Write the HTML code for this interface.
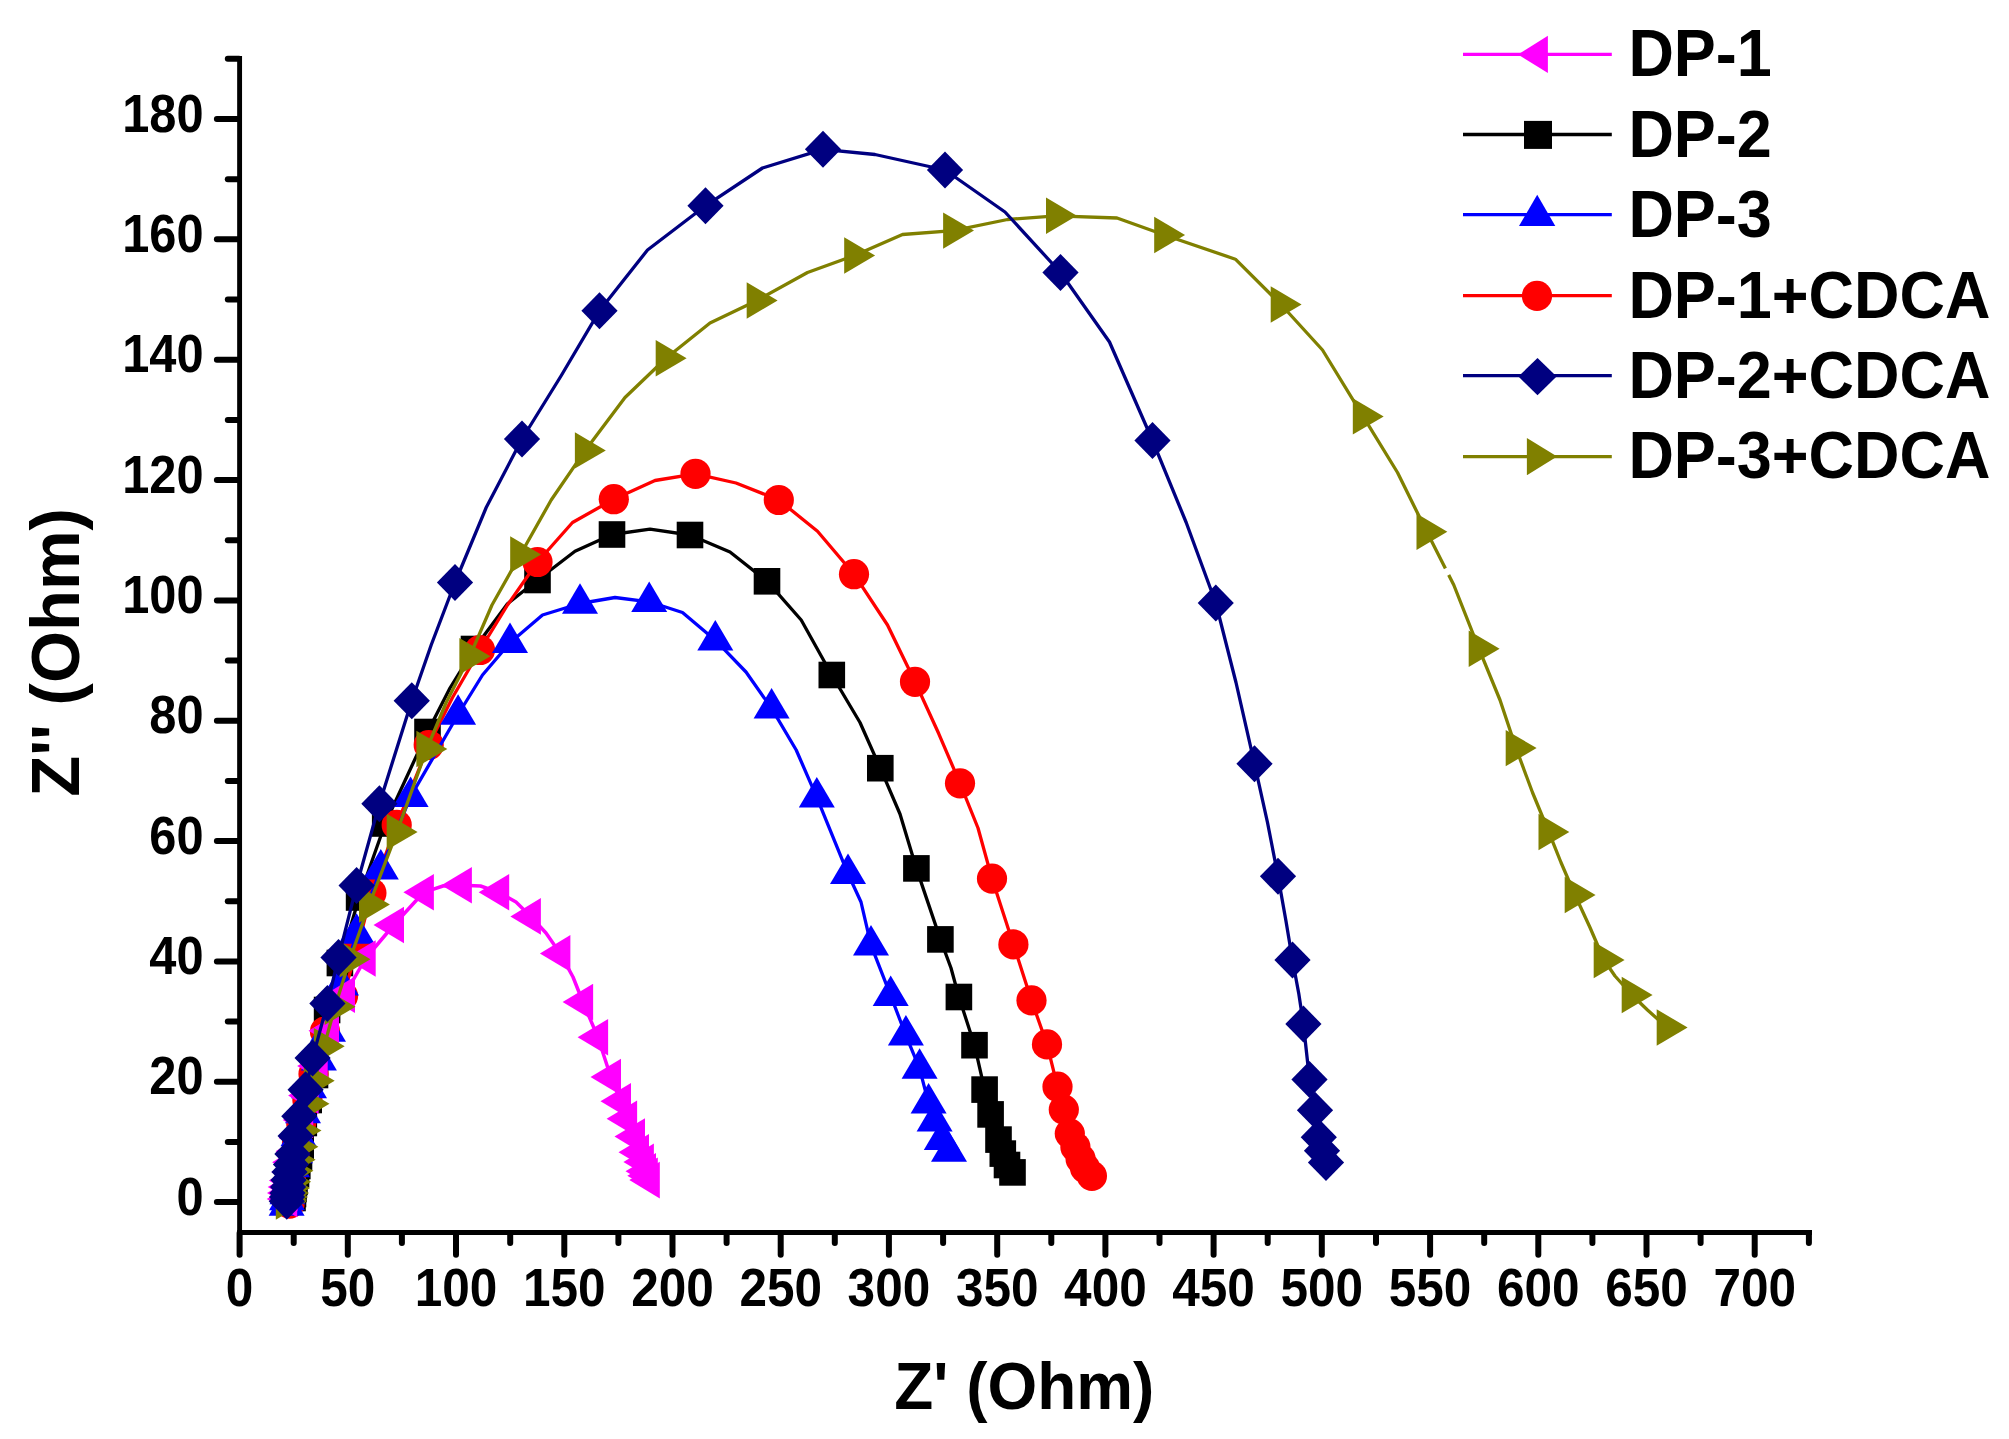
<!DOCTYPE html>
<html lang="en">
<head>
<meta charset="utf-8">
<title>Nyquist plot</title>
<style>
html,body{margin:0;padding:0;background:#fff;}
body{width:2009px;height:1439px;overflow:hidden;}
svg{display:block;}
</style>
</head>
<body>
<svg width="2009" height="1439" viewBox="0 0 2009 1439">
<rect x="0" y="0" width="2009" height="1439" fill="#ffffff"/>
<g fill="#000000" stroke="none">
<polyline fill="none" stroke="#000000" stroke-width="3.3" stroke-linejoin="round" points="292.5,1198 293,1194 293.5,1189 294.5,1182 296,1174 297.3,1166 299,1157 300.7,1147 303.8,1123 308.7,1100 315,1075 327.1,1010 339.9,963 359.1,897.5 385.2,823.5 427.5,732 450,688 474,649 507.5,603.8 537.5,580 575,551.2 612,534.5 650,529.2 690,535 730,552 767,581.2 801.2,620 831.8,675 860,722.5 880.3,768.2 900,814 916.4,868.4 940.4,939.4 951,968 958.9,997 967,1022 974.5,1045.2 984.6,1089.6 990.6,1114.4 998.5,1139.6 1002.8,1153.6 1007,1165 1012.5,1172.4"/>
<rect x="279.2" y="1184.7" width="26.6" height="26.6"/>
<rect x="279.7" y="1180.7" width="26.6" height="26.6"/>
<rect x="280.2" y="1175.7" width="26.6" height="26.6"/>
<rect x="281.2" y="1168.7" width="26.6" height="26.6"/>
<rect x="282.7" y="1160.7" width="26.6" height="26.6"/>
<rect x="284" y="1152.7" width="26.6" height="26.6"/>
<rect x="285.7" y="1143.7" width="26.6" height="26.6"/>
<rect x="287.4" y="1133.7" width="26.6" height="26.6"/>
<rect x="290.5" y="1109.7" width="26.6" height="26.6"/>
<rect x="295.4" y="1086.7" width="26.6" height="26.6"/>
<rect x="301.7" y="1061.7" width="26.6" height="26.6"/>
<rect x="313.8" y="996.7" width="26.6" height="26.6"/>
<rect x="326.6" y="949.7" width="26.6" height="26.6"/>
<rect x="345.8" y="884.2" width="26.6" height="26.6"/>
<rect x="371.9" y="810.2" width="26.6" height="26.6"/>
<rect x="414.2" y="718.7" width="26.6" height="26.6"/>
<rect x="460.7" y="635.7" width="26.6" height="26.6"/>
<rect x="524.2" y="566.7" width="26.6" height="26.6"/>
<rect x="598.7" y="521.2" width="26.6" height="26.6"/>
<rect x="676.7" y="521.7" width="26.6" height="26.6"/>
<rect x="753.7" y="568" width="26.6" height="26.6"/>
<rect x="818.5" y="661.7" width="26.6" height="26.6"/>
<rect x="867" y="754.9" width="26.6" height="26.6"/>
<rect x="903.1" y="855.1" width="26.6" height="26.6"/>
<rect x="927.1" y="926.1" width="26.6" height="26.6"/>
<rect x="945.6" y="983.7" width="26.6" height="26.6"/>
<rect x="961.2" y="1031.9" width="26.6" height="26.6"/>
<rect x="971.3" y="1076.3" width="26.6" height="26.6"/>
<rect x="977.3" y="1101.1" width="26.6" height="26.6"/>
<rect x="985.2" y="1126.3" width="26.6" height="26.6"/>
<rect x="989.5" y="1140.3" width="26.6" height="26.6"/>
<rect x="993.7" y="1151.7" width="26.6" height="26.6"/>
<rect x="999.2" y="1159.1" width="26.6" height="26.6"/>
</g>
<g fill="#ff0000" stroke="none">
<polyline fill="none" stroke="#ff0000" stroke-width="3.3" stroke-linejoin="round" points="289.6,1203.6 289.5,1199 289.6,1193 290,1186 290.8,1178 292,1168 294,1156 297,1143 301.2,1123 307.4,1100 313.5,1074 325,1031.5 343,996 357,949.5 371.4,893 396.7,824.9 428.7,745 452.5,697.5 480,650 507.5,605 537.5,562 572.5,522.5 613.8,499.2 655,480.5 695.5,473.8 736,483 778.8,500 817.5,531.2 854,574.2 887.5,625 915,681.8 938.8,733.8 960,783.3 978,828 992,878.6 1013.4,944.4 1031.5,1000.4 1047,1044.4 1057.5,1086.7 1063.8,1109.6 1069.8,1133.6 1075.4,1147 1080.6,1159 1085,1168 1091.9,1175.9"/>
<circle cx="289.6" cy="1203.6" r="15.1"/>
<circle cx="289.5" cy="1199" r="15.1"/>
<circle cx="289.6" cy="1193" r="15.1"/>
<circle cx="290" cy="1186" r="15.1"/>
<circle cx="290.8" cy="1178" r="15.1"/>
<circle cx="292" cy="1168" r="15.1"/>
<circle cx="294" cy="1156" r="15.1"/>
<circle cx="297" cy="1143" r="15.1"/>
<circle cx="301.2" cy="1123" r="15.1"/>
<circle cx="307.4" cy="1100" r="15.1"/>
<circle cx="313.5" cy="1074" r="15.1"/>
<circle cx="325" cy="1031.5" r="15.1"/>
<circle cx="343" cy="996" r="15.1"/>
<circle cx="357" cy="949.5" r="15.1"/>
<circle cx="371.4" cy="893" r="15.1"/>
<circle cx="396.7" cy="824.9" r="15.1"/>
<circle cx="428.7" cy="745" r="15.1"/>
<circle cx="480" cy="650" r="15.1"/>
<circle cx="537.5" cy="562" r="15.1"/>
<circle cx="613.8" cy="499.2" r="15.1"/>
<circle cx="695.5" cy="473.8" r="15.1"/>
<circle cx="778.8" cy="500" r="15.1"/>
<circle cx="854" cy="574.2" r="15.1"/>
<circle cx="915" cy="681.8" r="15.1"/>
<circle cx="960" cy="783.3" r="15.1"/>
<circle cx="992" cy="878.6" r="15.1"/>
<circle cx="1013.4" cy="944.4" r="15.1"/>
<circle cx="1031.5" cy="1000.4" r="15.1"/>
<circle cx="1047" cy="1044.4" r="15.1"/>
<circle cx="1057.5" cy="1086.7" r="15.1"/>
<circle cx="1063.8" cy="1109.6" r="15.1"/>
<circle cx="1069.8" cy="1133.6" r="15.1"/>
<circle cx="1075.4" cy="1147" r="15.1"/>
<circle cx="1080.6" cy="1159" r="15.1"/>
<circle cx="1085" cy="1168" r="15.1"/>
<circle cx="1091.9" cy="1175.9" r="15.1"/>
</g>
<g fill="#0000ff" stroke="none">
<polyline fill="none" stroke="#0000ff" stroke-width="3.3" stroke-linejoin="round" points="286.6,1205.6 287,1200 287.5,1194 288.5,1187 290,1178 292,1167 295,1153 298.5,1136 303,1113 309,1088 318.9,1060.3 328,1031.5 341,985.2 356.6,933.5 380.8,869.4 410.6,796.7 458.1,714.5 482.5,675 510,642.8 542.5,615 580,603.5 615,597.5 649.2,601.8 682.5,612.5 715.3,640.2 746,672 771.6,708.4 796.2,750 816.8,797.3 848,873.8 861,902 871,945.2 890.7,995.7 905.9,1035.3 919.6,1068.6 928.6,1103.4 934.6,1121.4 941.8,1139.9 949,1151.6"/>
<polygon points="286.6,1185.3 304.6,1215.8 268.6,1215.8"/>
<polygon points="287,1179.7 305,1210.2 269,1210.2"/>
<polygon points="287.5,1173.7 305.5,1204.2 269.5,1204.2"/>
<polygon points="288.5,1166.7 306.5,1197.2 270.5,1197.2"/>
<polygon points="290,1157.7 308,1188.2 272,1188.2"/>
<polygon points="292,1146.7 310,1177.2 274,1177.2"/>
<polygon points="295,1132.7 313,1163.2 277,1163.2"/>
<polygon points="298.5,1115.7 316.5,1146.2 280.5,1146.2"/>
<polygon points="303,1092.7 321,1123.2 285,1123.2"/>
<polygon points="309,1067.7 327,1098.2 291,1098.2"/>
<polygon points="318.9,1040 336.9,1070.5 300.9,1070.5"/>
<polygon points="328,1011.2 346,1041.7 310,1041.7"/>
<polygon points="341,964.9 359,995.4 323,995.4"/>
<polygon points="356.6,913.2 374.6,943.7 338.6,943.7"/>
<polygon points="380.8,849.1 398.8,879.6 362.8,879.6"/>
<polygon points="410.6,776.4 428.6,806.9 392.6,806.9"/>
<polygon points="458.1,694.2 476.1,724.7 440.1,724.7"/>
<polygon points="510,622.5 528,653 492,653"/>
<polygon points="580,583.2 598,613.7 562,613.7"/>
<polygon points="649.2,581.5 667.2,612 631.2,612"/>
<polygon points="715.3,620 733.3,650.5 697.3,650.5"/>
<polygon points="771.6,688.1 789.6,718.6 753.6,718.6"/>
<polygon points="816.8,777 834.8,807.5 798.8,807.5"/>
<polygon points="848,853.5 866,884 830,884"/>
<polygon points="871,924.9 889,955.4 853,955.4"/>
<polygon points="890.7,975.4 908.7,1005.9 872.7,1005.9"/>
<polygon points="905.9,1015 923.9,1045.5 887.9,1045.5"/>
<polygon points="919.6,1048.3 937.6,1078.8 901.6,1078.8"/>
<polygon points="928.6,1083.1 946.6,1113.6 910.6,1113.6"/>
<polygon points="934.6,1101.1 952.6,1131.6 916.6,1131.6"/>
<polygon points="941.8,1119.6 959.8,1150.1 923.8,1150.1"/>
<polygon points="949,1131.3 967,1161.8 931,1161.8"/>
</g>
<g fill="#ff00ff" stroke="none">
<polyline fill="none" stroke="#ff00ff" stroke-width="3.5" stroke-linejoin="round" points="287,1199 287.3,1193 288,1187 289.2,1180.4 291.7,1172 292.4,1162.3 295.9,1151.2 299,1138 303,1120 308.4,1095.6 317.5,1066 328.8,1030.8 344.8,994.7 365.5,958.5 393.8,925 423.7,892.3 443,886 461.7,885.2 480.5,886 499,892.3 516,902 530.7,916.4 546,933 560.2,953.4 573,977 582.9,1002 597.9,1037.3 610.8,1077 620.8,1101.2 626.9,1118.8 634.8,1136.6 638.8,1152.3 643.7,1161.9 645.8,1171.3 647.6,1175.8 649.6,1180.1"/>
<polygon points="266.7,1199 297.2,1180.7 297.2,1217.3"/>
<polygon points="267,1193 297.5,1174.7 297.5,1211.3"/>
<polygon points="267.7,1187 298.2,1168.7 298.2,1205.3"/>
<polygon points="268.9,1180.4 299.4,1162.1 299.4,1198.7"/>
<polygon points="271.4,1172 301.9,1153.7 301.9,1190.3"/>
<polygon points="272.1,1162.3 302.6,1144 302.6,1180.6"/>
<polygon points="275.6,1151.2 306.1,1132.9 306.1,1169.5"/>
<polygon points="278.7,1138 309.2,1119.7 309.2,1156.3"/>
<polygon points="282.7,1120 313.2,1101.7 313.2,1138.3"/>
<polygon points="288.1,1095.6 318.6,1077.3 318.6,1113.9"/>
<polygon points="297.2,1066 327.7,1047.7 327.7,1084.3"/>
<polygon points="308.5,1030.8 339,1012.5 339,1049.1"/>
<polygon points="324.5,994.7 355,976.4 355,1013"/>
<polygon points="345.2,958.5 375.7,940.2 375.7,976.8"/>
<polygon points="373.5,925 404,906.7 404,943.3"/>
<polygon points="403.4,892.3 433.9,874 433.9,910.6"/>
<polygon points="441.4,885.2 471.9,866.9 471.9,903.5"/>
<polygon points="478.7,892.3 509.2,874 509.2,910.6"/>
<polygon points="510.4,916.4 540.9,898.1 540.9,934.7"/>
<polygon points="539.9,953.4 570.4,935.1 570.4,971.7"/>
<polygon points="562.6,1002 593.1,983.7 593.1,1020.3"/>
<polygon points="577.6,1037.3 608.1,1019 608.1,1055.6"/>
<polygon points="590.5,1077 621,1058.7 621,1095.3"/>
<polygon points="600.5,1101.2 631,1082.9 631,1119.5"/>
<polygon points="606.6,1118.8 637.1,1100.5 637.1,1137.1"/>
<polygon points="614.5,1136.6 645,1118.3 645,1154.9"/>
<polygon points="618.5,1152.3 649,1134 649,1170.6"/>
<polygon points="623.4,1161.9 653.9,1143.6 653.9,1180.2"/>
<polygon points="625.5,1171.3 656,1153 656,1189.6"/>
<polygon points="627.3,1175.8 657.8,1157.5 657.8,1194.1"/>
<polygon points="629.3,1180.1 659.8,1161.8 659.8,1198.4"/>
</g>
<g fill="#808000" stroke="none">
<polyline fill="none" stroke="#808000" stroke-width="3.3" stroke-linejoin="round" points="286.1,1201.5 286.5,1200 287.5,1197 288.5,1193 289.5,1188 290.5,1181.8 292.8,1170.7 295,1159.8 297.8,1146.8 300.9,1130.4 308.9,1103.7 314.1,1080.7 324.1,1046.2 335,1006.8 349.9,959.2 369.3,904.5 397,831.9 426.7,749 446.2,702.5 469.8,656.2 492,605 520.5,554.5 551.2,500 585.2,450.4 625,397.5 666,358.3 710,323 757,300.5 807.5,272.5 854.5,255.5 902.5,234.5 953.4,230.6 1007.5,219.5 1056.2,215.8 1117,218 1164.5,235 1235.4,259.2 1281,304.5 1322.5,350 1363.1,416.4 1397.5,472.5 1426.8,531.8 1453.8,585 1479,648.8 1500,700 1516,748.1 1532.5,792.5 1548.8,832 1561,862.5 1575,895 1590,927.5 1604,960 1615,976 1632,995 1647.5,1010 1667,1027.5"/>
<polygon points="306.7,1201.5 275.8,1183.3 275.8,1219.7"/>
<polygon points="307.1,1200 276.2,1181.8 276.2,1218.2"/>
<polygon points="308.1,1197 277.2,1178.8 277.2,1215.2"/>
<polygon points="309.1,1193 278.2,1174.8 278.2,1211.2"/>
<polygon points="310.1,1188 279.2,1169.8 279.2,1206.2"/>
<polygon points="311.1,1181.8 280.2,1163.6 280.2,1200"/>
<polygon points="313.4,1170.7 282.5,1152.5 282.5,1188.9"/>
<polygon points="315.6,1159.8 284.7,1141.6 284.7,1178"/>
<polygon points="318.4,1146.8 287.5,1128.6 287.5,1165"/>
<polygon points="321.5,1130.4 290.6,1112.2 290.6,1148.6"/>
<polygon points="329.5,1103.7 298.6,1085.5 298.6,1121.9"/>
<polygon points="334.7,1080.7 303.8,1062.5 303.8,1098.9"/>
<polygon points="344.7,1046.2 313.8,1028 313.8,1064.4"/>
<polygon points="355.6,1006.8 324.7,988.6 324.7,1025"/>
<polygon points="370.5,959.2 339.6,941 339.6,977.4"/>
<polygon points="389.9,904.5 359,886.3 359,922.7"/>
<polygon points="417.6,831.9 386.7,813.7 386.7,850.1"/>
<polygon points="447.3,749 416.4,730.8 416.4,767.2"/>
<polygon points="490.4,656.2 459.4,638 459.4,674.5"/>
<polygon points="541.1,554.5 510.2,536.3 510.2,572.7"/>
<polygon points="605.8,450.4 574.9,432.2 574.9,468.6"/>
<polygon points="686.6,358.3 655.7,340.1 655.7,376.5"/>
<polygon points="777.6,300.5 746.7,282.3 746.7,318.7"/>
<polygon points="875.1,255.5 844.2,237.3 844.2,273.7"/>
<polygon points="974,230.6 943.1,212.4 943.1,248.8"/>
<polygon points="1076.8,215.8 1046,197.6 1046,233.9"/>
<polygon points="1185.1,235 1154.2,216.8 1154.2,253.2"/>
<polygon points="1301.6,304.5 1270.7,286.3 1270.7,322.7"/>
<polygon points="1383.7,416.4 1352.8,398.2 1352.8,434.6"/>
<polygon points="1447.3,531.8 1416.5,513.5 1416.5,550"/>
<polygon points="1499.6,648.8 1468.7,630.5 1468.7,667"/>
<polygon points="1536.6,748.1 1505.7,729.9 1505.7,766.3"/>
<polygon points="1569.3,832 1538.5,813.8 1538.5,850.2"/>
<polygon points="1595.6,895 1564.7,876.8 1564.7,913.2"/>
<polygon points="1624.6,960 1593.7,941.8 1593.7,978.2"/>
<polygon points="1652.6,995 1621.7,976.8 1621.7,1013.2"/>
<polygon points="1687.6,1027.5 1656.7,1009.3 1656.7,1045.7"/>
</g>
<line x1="1445.3" y1="568.5" x2="1448.6" y2="575" stroke="#fff" stroke-width="5"/>
<g fill="#000080" stroke="none">
<polyline fill="none" stroke="#000080" stroke-width="3.3" stroke-linejoin="round" points="286.8,1201.2 287,1197 287.5,1193 288,1187 288.5,1180 289.5,1172 291,1164.4 292.4,1154 295.6,1135.9 299.3,1116.2 305.6,1089.8 312.6,1058.1 327.4,1003.4 338.5,957.6 356.6,885.6 379.4,803.7 411.8,700.8 431.2,645 455,582.5 486.2,507.5 522,439 561,376 599.5,310.8 647.5,250 705.5,205.8 762.5,168 823,149.3 875,154.5 945,170 1005,212 1060.5,272.5 1109.5,342 1152.5,440.5 1186.2,522.5 1215.8,603 1236,682.5 1254.5,763.8 1267.5,822.5 1278,876.2 1285.8,920 1292.5,960 1298.8,993.8 1303.4,1024 1309.5,1079.5 1315,1110.3 1318.8,1137.2 1322,1150.8 1326,1162.5"/>
<polygon points="286.8,1182.7 304.9,1201.2 286.8,1219.7 268.7,1201.2"/>
<polygon points="287,1178.5 305.1,1197 287,1215.5 268.9,1197"/>
<polygon points="287.5,1174.5 305.6,1193 287.5,1211.5 269.4,1193"/>
<polygon points="288,1168.5 306.1,1187 288,1205.5 269.9,1187"/>
<polygon points="288.5,1161.5 306.6,1180 288.5,1198.5 270.4,1180"/>
<polygon points="289.5,1153.5 307.6,1172 289.5,1190.5 271.4,1172"/>
<polygon points="291,1145.9 309.1,1164.4 291,1182.9 272.9,1164.4"/>
<polygon points="292.4,1135.5 310.5,1154 292.4,1172.5 274.3,1154"/>
<polygon points="295.6,1117.4 313.7,1135.9 295.6,1154.4 277.5,1135.9"/>
<polygon points="299.3,1097.7 317.4,1116.2 299.3,1134.7 281.2,1116.2"/>
<polygon points="305.6,1071.3 323.7,1089.8 305.6,1108.3 287.5,1089.8"/>
<polygon points="312.6,1039.6 330.7,1058.1 312.6,1076.6 294.5,1058.1"/>
<polygon points="327.4,984.9 345.5,1003.4 327.4,1021.9 309.3,1003.4"/>
<polygon points="338.5,939.1 356.6,957.6 338.5,976.1 320.4,957.6"/>
<polygon points="356.6,867.1 374.7,885.6 356.6,904.1 338.5,885.6"/>
<polygon points="379.4,785.2 397.5,803.7 379.4,822.2 361.3,803.7"/>
<polygon points="411.8,682.2 429.9,700.8 411.8,719.2 393.6,700.8"/>
<polygon points="455,564 473.1,582.5 455,601 436.9,582.5"/>
<polygon points="522,420.5 540.1,439 522,457.5 503.9,439"/>
<polygon points="599.5,292.3 617.6,310.8 599.5,329.3 581.4,310.8"/>
<polygon points="705.5,187.3 723.6,205.8 705.5,224.3 687.4,205.8"/>
<polygon points="823,130.8 841.1,149.3 823,167.8 804.9,149.3"/>
<polygon points="945,151.5 963.1,170 945,188.5 926.9,170"/>
<polygon points="1060.5,254 1078.6,272.5 1060.5,291 1042.4,272.5"/>
<polygon points="1152.5,422 1170.6,440.5 1152.5,459 1134.4,440.5"/>
<polygon points="1215.8,584.5 1233.8,603 1215.8,621.5 1197.7,603"/>
<polygon points="1254.5,745.2 1272.6,763.8 1254.5,782.2 1236.4,763.8"/>
<polygon points="1278,857.8 1296.1,876.2 1278,894.8 1259.9,876.2"/>
<polygon points="1292.5,941.5 1310.6,960 1292.5,978.5 1274.4,960"/>
<polygon points="1303.4,1005.5 1321.5,1024 1303.4,1042.5 1285.3,1024"/>
<polygon points="1309.5,1061 1327.6,1079.5 1309.5,1098 1291.4,1079.5"/>
<polygon points="1315,1091.8 1333.1,1110.3 1315,1128.8 1296.9,1110.3"/>
<polygon points="1318.8,1118.7 1336.9,1137.2 1318.8,1155.7 1300.7,1137.2"/>
<polygon points="1322,1132.3 1340.1,1150.8 1322,1169.3 1303.9,1150.8"/>
<polygon points="1326,1144 1344.1,1162.5 1326,1181 1307.9,1162.5"/>
</g>
<g stroke="#000" stroke-width="4.9" stroke-linecap="butt" fill="none">
<line x1="239.6" y1="56.1" x2="239.6" y2="1255.3"/>
<line x1="237.2" y1="1232.55" x2="1812" y2="1232.55" stroke-width="5.1"/>
</g>
<g stroke="#000" stroke-width="6" stroke-linecap="round" fill="none">
<line x1="216.9" y1="1202.1" x2="239" y2="1202.1"/>
<line x1="227.8" y1="1141.9" x2="239" y2="1141.9"/>
<line x1="216.9" y1="1081.8" x2="239" y2="1081.8"/>
<line x1="227.8" y1="1021.6" x2="239" y2="1021.6"/>
<line x1="216.9" y1="961.4" x2="239" y2="961.4"/>
<line x1="227.8" y1="901.2" x2="239" y2="901.2"/>
<line x1="216.9" y1="841.1" x2="239" y2="841.1"/>
<line x1="227.8" y1="780.9" x2="239" y2="780.9"/>
<line x1="216.9" y1="720.7" x2="239" y2="720.7"/>
<line x1="227.8" y1="660.5" x2="239" y2="660.5"/>
<line x1="216.9" y1="600.4" x2="239" y2="600.4"/>
<line x1="227.8" y1="540.2" x2="239" y2="540.2"/>
<line x1="216.9" y1="480" x2="239" y2="480"/>
<line x1="227.8" y1="419.9" x2="239" y2="419.9"/>
<line x1="216.9" y1="359.7" x2="239" y2="359.7"/>
<line x1="227.8" y1="299.5" x2="239" y2="299.5"/>
<line x1="216.9" y1="239.3" x2="239" y2="239.3"/>
<line x1="227.8" y1="179.2" x2="239" y2="179.2"/>
<line x1="216.9" y1="119" x2="239" y2="119"/>
<line x1="227.8" y1="58.8" x2="239" y2="58.8"/>
<line x1="239.6" y1="1233" x2="239.6" y2="1254.8"/>
<line x1="293.7" y1="1233" x2="293.7" y2="1242.9"/>
<line x1="347.8" y1="1233" x2="347.8" y2="1254.8"/>
<line x1="401.9" y1="1233" x2="401.9" y2="1242.9"/>
<line x1="456" y1="1233" x2="456" y2="1254.8"/>
<line x1="510.2" y1="1233" x2="510.2" y2="1242.9"/>
<line x1="564.3" y1="1233" x2="564.3" y2="1254.8"/>
<line x1="618.4" y1="1233" x2="618.4" y2="1242.9"/>
<line x1="672.5" y1="1233" x2="672.5" y2="1254.8"/>
<line x1="726.6" y1="1233" x2="726.6" y2="1242.9"/>
<line x1="780.7" y1="1233" x2="780.7" y2="1254.8"/>
<line x1="834.8" y1="1233" x2="834.8" y2="1242.9"/>
<line x1="888.9" y1="1233" x2="888.9" y2="1254.8"/>
<line x1="943.1" y1="1233" x2="943.1" y2="1242.9"/>
<line x1="997.2" y1="1233" x2="997.2" y2="1254.8"/>
<line x1="1051.3" y1="1233" x2="1051.3" y2="1242.9"/>
<line x1="1105.4" y1="1233" x2="1105.4" y2="1254.8"/>
<line x1="1159.5" y1="1233" x2="1159.5" y2="1242.9"/>
<line x1="1213.6" y1="1233" x2="1213.6" y2="1254.8"/>
<line x1="1267.7" y1="1233" x2="1267.7" y2="1242.9"/>
<line x1="1321.8" y1="1233" x2="1321.8" y2="1254.8"/>
<line x1="1376" y1="1233" x2="1376" y2="1242.9"/>
<line x1="1430.1" y1="1233" x2="1430.1" y2="1254.8"/>
<line x1="1484.2" y1="1233" x2="1484.2" y2="1242.9"/>
<line x1="1538.3" y1="1233" x2="1538.3" y2="1254.8"/>
<line x1="1592.4" y1="1233" x2="1592.4" y2="1242.9"/>
<line x1="1646.5" y1="1233" x2="1646.5" y2="1254.8"/>
<line x1="1700.6" y1="1233" x2="1700.6" y2="1242.9"/>
<line x1="1754.7" y1="1233" x2="1754.7" y2="1254.8"/>
<line x1="1808.9" y1="1233" x2="1808.9" y2="1242.9"/>
</g>
<g font-family="'Liberation Sans', Arial, sans-serif" font-weight="bold" fill="#000">
<g font-size="50.5" text-anchor="end">
<text transform="translate(203.6,1214.7) scale(0.966,1.06)" font-size="50.5" text-anchor="end">0</text>
<text transform="translate(203.6,1094.4) scale(0.966,1.06)" font-size="50.5" text-anchor="end">20</text>
<text transform="translate(203.6,974) scale(0.966,1.06)" font-size="50.5" text-anchor="end">40</text>
<text transform="translate(203.6,853.7) scale(0.966,1.06)" font-size="50.5" text-anchor="end">60</text>
<text transform="translate(203.6,733.3) scale(0.966,1.06)" font-size="50.5" text-anchor="end">80</text>
<text transform="translate(203.6,613) scale(0.966,1.06)" font-size="50.5" text-anchor="end">100</text>
<text transform="translate(203.6,492.6) scale(0.966,1.06)" font-size="50.5" text-anchor="end">120</text>
<text transform="translate(203.6,372.3) scale(0.966,1.06)" font-size="50.5" text-anchor="end">140</text>
<text transform="translate(203.6,251.9) scale(0.966,1.06)" font-size="50.5" text-anchor="end">160</text>
<text transform="translate(203.6,131.6) scale(0.966,1.06)" font-size="50.5" text-anchor="end">180</text>
</g>
<g font-size="50.5" text-anchor="middle">
<text transform="translate(239.6,1306.2) scale(0.98,1.055)" font-size="50.5" text-anchor="middle">0</text>
<text transform="translate(347.8,1306.2) scale(0.98,1.055)" font-size="50.5" text-anchor="middle">50</text>
<text transform="translate(456,1306.2) scale(0.98,1.055)" font-size="50.5" text-anchor="middle">100</text>
<text transform="translate(564.3,1306.2) scale(0.98,1.055)" font-size="50.5" text-anchor="middle">150</text>
<text transform="translate(672.5,1306.2) scale(0.98,1.055)" font-size="50.5" text-anchor="middle">200</text>
<text transform="translate(780.7,1306.2) scale(0.98,1.055)" font-size="50.5" text-anchor="middle">250</text>
<text transform="translate(888.9,1306.2) scale(0.98,1.055)" font-size="50.5" text-anchor="middle">300</text>
<text transform="translate(997.2,1306.2) scale(0.98,1.055)" font-size="50.5" text-anchor="middle">350</text>
<text transform="translate(1105.4,1306.2) scale(0.98,1.055)" font-size="50.5" text-anchor="middle">400</text>
<text transform="translate(1213.6,1306.2) scale(0.98,1.055)" font-size="50.5" text-anchor="middle">450</text>
<text transform="translate(1321.8,1306.2) scale(0.98,1.055)" font-size="50.5" text-anchor="middle">500</text>
<text transform="translate(1430.1,1306.2) scale(0.98,1.055)" font-size="50.5" text-anchor="middle">550</text>
<text transform="translate(1538.3,1306.2) scale(0.98,1.055)" font-size="50.5" text-anchor="middle">600</text>
<text transform="translate(1646.5,1306.2) scale(0.98,1.055)" font-size="50.5" text-anchor="middle">650</text>
<text transform="translate(1754.7,1306.2) scale(0.98,1.055)" font-size="50.5" text-anchor="middle">700</text>
</g>
<text transform="translate(1024.3,1408.7) scale(0.99,1.03)" font-size="64.5" text-anchor="middle">Z' (Ohm)</text>
<text transform="translate(78.7,652.5) rotate(-90) scale(1,1.03)" font-size="67" text-anchor="middle">Z'' (Ohm)</text>
<g>
<text transform="translate(1628.4,75.9) scale(0.9837,1.04)" font-size="64" text-anchor="start">DP-1</text>
<text transform="translate(1628.4,156.8) scale(0.9837,1.04)" font-size="64" text-anchor="start">DP-2</text>
<text transform="translate(1628.4,236.8) scale(0.9837,1.04)" font-size="64" text-anchor="start">DP-3</text>
<text transform="translate(1628.4,318.1) scale(0.9837,1.04)" font-size="64" text-anchor="start">DP-1+CDCA</text>
<text transform="translate(1628.4,398) scale(0.9837,1.04)" font-size="64" text-anchor="start">DP-2+CDCA</text>
<text transform="translate(1628.4,478.1) scale(0.9837,1.04)" font-size="64" text-anchor="start">DP-3+CDCA</text>
</g>
</g>
<g fill="#ff00ff"><line x1="1463" y1="54.4" x2="1611.8" y2="54.4" stroke="#ff00ff" stroke-width="3.4"/><polygon points="1518,54.4 1547.9,35.8 1547.9,73.1"/></g>
<g fill="#000000"><line x1="1463" y1="134.5" x2="1611.8" y2="134.5" stroke="#000000" stroke-width="3.4"/><rect x="1524" y="120.9" width="28" height="28"/></g>
<g fill="#0000ff"><line x1="1463" y1="214.6" x2="1611.8" y2="214.6" stroke="#0000ff" stroke-width="3.4"/><polygon points="1537.2,194.8 1555.3,226 1519,226"/></g>
<g fill="#ff0000"><line x1="1463" y1="295.6" x2="1611.8" y2="295.6" stroke="#ff0000" stroke-width="3.4"/><circle cx="1537" cy="295.9" r="15.1"/></g>
<g fill="#000080"><line x1="1463" y1="375.6" x2="1611.8" y2="375.6" stroke="#000080" stroke-width="3.4"/><polygon points="1537.5,357.9 1556.6,376.6 1537.5,395.3 1518.4,376.6"/></g>
<g fill="#808000"><line x1="1463" y1="456.6" x2="1611.8" y2="456.6" stroke="#808000" stroke-width="3.4"/><polygon points="1557.1,456.6 1526.9,437.9 1526.9,475.3"/></g>
</svg>
</body>
</html>
